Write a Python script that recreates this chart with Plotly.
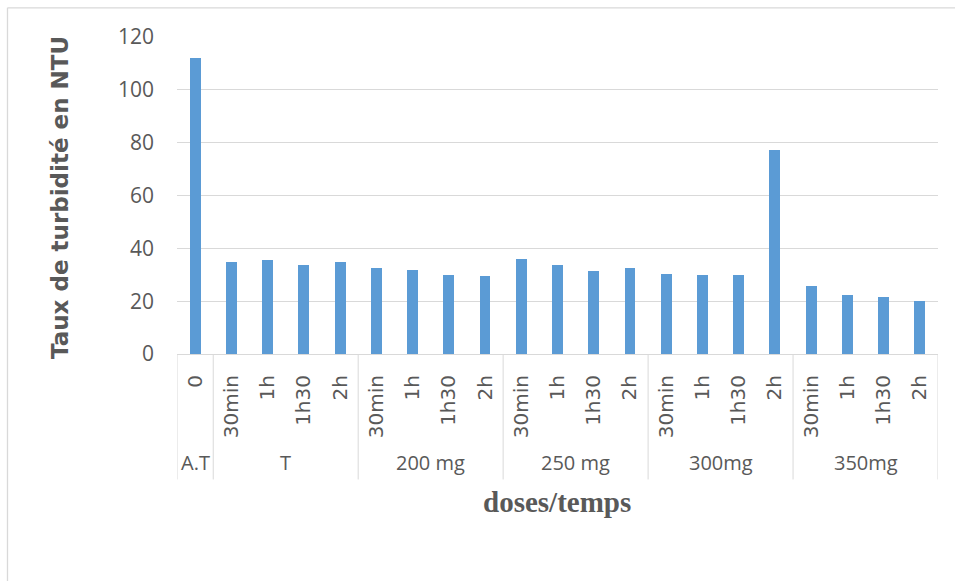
import plotly.graph_objects as go

# Turbidity (NTU) per dose group and contact time
groups = ["A.T", "T", "200 mg", "250 mg", "300mg", "350mg"]
group_sizes = [1, 4, 4, 4, 4, 4]
times = ["0",
         "30min", "1h", "1h30", "2h",
         "30min", "1h", "1h30", "2h",
         "30min", "1h", "1h30", "2h",
         "30min", "1h", "1h30", "2h",
         "30min", "1h", "1h30", "2h"]
turbidity = [112,
             35.0, 35.6, 33.7, 34.8,
             32.6, 31.8, 30.0, 29.5,
             35.9, 33.6, 31.5, 32.5,
             30.2, 29.8, 30.0, 77.1,
             25.8, 22.3, 21.4, 19.9]
y_ticks = [0, 20, 40, 60, 80, 100, 120]

W, H = 955, 581
L, R, T, B = 177, 938, 36.7, 354.3
GRID = "#d9d9d9"
TXT = "#595959"


def px_x(p):
    return (p - L) / (R - L)


def px_y(p):
    return (B - p) / (B - T)


idx = list(range(len(times)))

fig = go.Figure(go.Bar(
    x=idx, y=turbidity, width=0.3,
    marker=dict(color="#5b9bd5", line=dict(width=0)),
    hoverinfo="x+y",
))

shapes = []
annotations = []

# group separators and group labels below the time labels
edges = [-0.5]
for n in group_sizes:
    edges.append(edges[-1] + n)
for e in edges:
    shapes.append(dict(type="line", xref="x", yref="paper",
                       x0=e, x1=e, y0=px_y(B), y1=px_y(480),
                       line=dict(color=GRID, width=1)))
for g, a, b in zip(groups, edges[:-1], edges[1:]):
    annotations.append(dict(text=g, xref="x", yref="paper",
                            x=(a + b) / 2, y=px_y(463),
                            showarrow=False, xanchor="center", yanchor="middle",
                            font=dict(family="Open Sans", size=20, color=TXT)))

# outer chart frame
shapes.append(dict(type="line", xref="paper", yref="paper",
                   x0=px_x(7.5), x1=px_x(W + 5), y0=px_y(7.5), y1=px_y(7.5),
                   line=dict(color=GRID, width=1.3)))
shapes.append(dict(type="line", xref="paper", yref="paper",
                   x0=px_x(7.5), x1=px_x(7.5), y0=px_y(7.5), y1=px_y(H + 5),
                   line=dict(color=GRID, width=1.3)))

# axis titles
annotations.append(dict(text="<b>Taux de turbidité en NTU</b>", xref="paper", yref="paper",
                        x=px_x(60), y=px_y(198), textangle=-90, showarrow=False,
                        xanchor="center", yanchor="middle",
                        font=dict(family="DejaVu Sans", size=23, color=TXT)))
annotations.append(dict(text="<b>doses/temps</b>", xref="paper", yref="paper",
                        x=px_x(557), y=px_y(503), showarrow=False,
                        xanchor="center", yanchor="middle",
                        font=dict(family="Liberation Serif", size=29, color=TXT)))

fig.update_layout(
    width=W, height=H,
    margin=dict(l=L, r=W - R, t=T, b=H - B, pad=0),
    paper_bgcolor="white", plot_bgcolor="white",
    showlegend=False, bargap=0,
    shapes=shapes, annotations=annotations,
    xaxis=dict(range=[-0.5, len(times) - 0.5], tickmode="array",
               tickvals=idx, ticktext=times, tickangle=-90,
               ticks="", showgrid=False, zeroline=False,
               showline=True, linecolor=GRID, linewidth=1,
               ticklabelstandoff=12,
               tickfont=dict(family="DejaVu Sans", size=20, color=TXT)),
    yaxis=dict(range=[0, 120], tickmode="array", tickvals=y_ticks,
               showgrid=True, gridcolor=GRID, gridwidth=1,
               zeroline=False, showline=False, ticks="",
               ticklabelstandoff=22,
               tickfont=dict(family="Open Sans", size=21, color=TXT)),
)

fig.write_html("out.html")
